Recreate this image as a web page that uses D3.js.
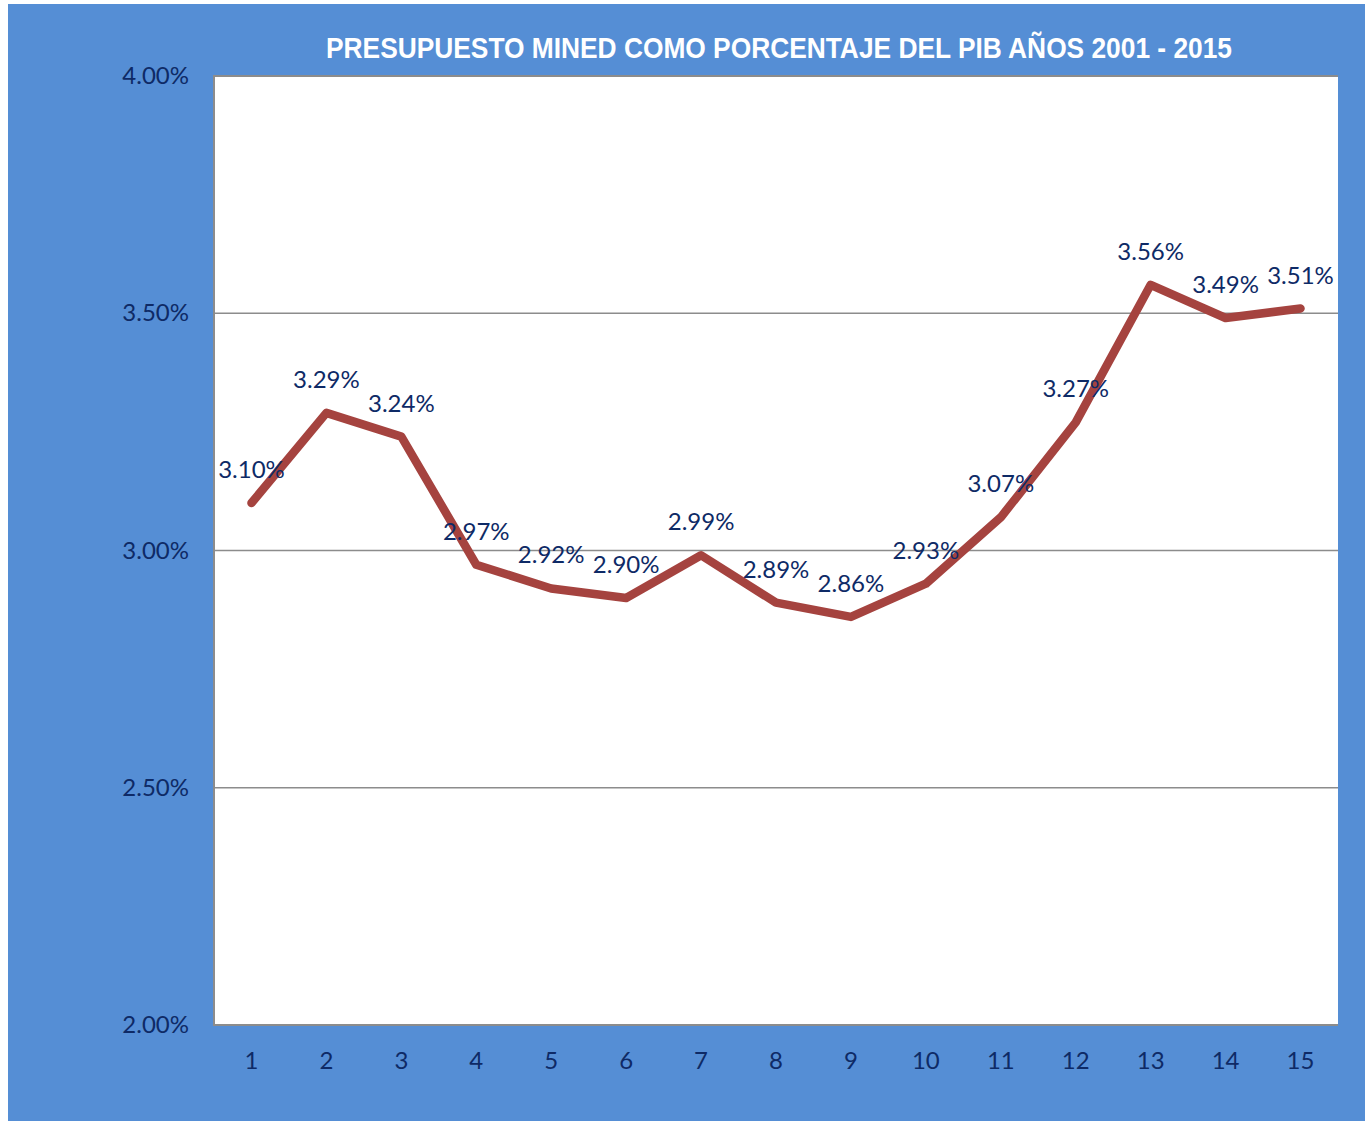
<!DOCTYPE html>
<html>
<head>
<meta charset="utf-8">
<script src="https://cdn.jsdelivr.net/npm/d3@7"></script>
<style>
  body { margin: 0; background: #fff; }
  svg { display: block; }
</style>
</head>
<body>
<div id="chart"></div>
<script>
// Data
const years = ["1","2","3","4","5","6","7","8","9","10","11","12","13","14","15"];
const pctPib = [3.10, 3.29, 3.24, 2.97, 2.92, 2.90, 2.99, 2.89, 2.86, 2.93, 3.07, 3.27, 3.56, 3.49, 3.51];
const yTicks = [2.0, 2.5, 3.0, 3.5, 4.0];
const title = "PRESUPUESTO MINED COMO PORCENTAJE DEL PIB AÑOS 2001 - 2015";

const svgWidth = 1371;
const svgHeight = 1123;
const margin = {top: 76, left: 214, right: 33, bottom: 98};
const width = svgWidth - margin.left - margin.right;
const height = svgHeight - margin.top - margin.bottom;

const labelFont = "Lato, sans-serif";
const labelSize = "24px";
const navy = "#0E2A66";

const svg = d3.select("#chart")
  .append("svg")
  .attr("width", svgWidth)
  .attr("height", svgHeight);

// Blue frame
svg.append("rect")
  .attr("x", 8).attr("y", 4)
  .attr("width", 1357).attr("height", 1117)
  .attr("fill", "#558ED5");

const chartGroup = svg.append("g")
  .attr("transform", `translate(${margin.left}, ${margin.top})`);

// Plot area
chartGroup.append("rect")
  .attr("width", width).attr("height", height)
  .attr("fill", "#fff");

const xScale = d3.scaleBand().domain(years).range([0, width]);
const yScale = d3.scaleLinear().domain([2.0, 4.0]).range([height, 0]);

// Gridlines
chartGroup.selectAll("line.grid")
  .data(yTicks.filter(t => t > 2.0 && t < 4.0))
  .enter()
  .append("line")
  .attr("class", "grid")
  .attr("x1", 0).attr("x2", width)
  .attr("y1", d => yScale(d)).attr("y2", d => yScale(d))
  .attr("stroke", "#8c8c8c")
  .attr("stroke-width", 1.5);

// Plot borders (left, top, bottom)
chartGroup.append("path")
  .attr("d", `M${width},0 H0 V${height} H${width}`)
  .attr("fill", "none")
  .attr("stroke", "#8c8c8c")
  .attr("stroke-width", 2);

// Axes
const yAxis = d3.axisLeft(yScale).tickValues(yTicks).tickSize(0).tickPadding(25)
  .tickFormat(d => d.toFixed(2) + "%");
const xAxis = d3.axisBottom(xScale).tickSize(0).tickPadding(27);

const yAxisG = chartGroup.append("g").call(yAxis);
const xAxisG = chartGroup.append("g").attr("transform", `translate(0, ${height})`).call(xAxis);

[yAxisG, xAxisG].forEach(g => {
  g.select(".domain").remove();
  g.selectAll("text")
    .attr("fill", navy)
    .style("font-family", labelFont)
    .style("font-size", labelSize);
});

// Line
const line = d3.line()
  .x((d, i) => xScale(years[i]) + xScale.bandwidth() / 2)
  .y(d => yScale(d));

chartGroup.append("path")
  .datum(pctPib)
  .attr("d", line)
  .attr("fill", "none")
  .attr("stroke", "#A5433F")
  .attr("stroke-width", 8.5)
  .attr("stroke-linejoin", "round")
  .attr("stroke-linecap", "round");

// Data labels
chartGroup.selectAll("text.dlabel")
  .data(pctPib)
  .enter()
  .append("text")
  .attr("class", "dlabel")
  .attr("x", (d, i) => xScale(years[i]) + xScale.bandwidth() / 2)
  .attr("y", d => yScale(d) - 25)
  .attr("text-anchor", "middle")
  .attr("fill", navy)
  .style("font-family", labelFont)
  .style("font-size", labelSize)
  .text(d => d.toFixed(2) + "%");

// Title
svg.append("text")
  .attr("x", 779)
  .attr("y", 58)
  .attr("text-anchor", "middle")
  .attr("textLength", 906)
  .attr("lengthAdjust", "spacingAndGlyphs")
  .attr("fill", "#fff")
  .style("font-family", "'Liberation Sans Narrow', 'Arial Narrow', 'Liberation Sans', sans-serif")
  .style("font-weight", "bold")
  .style("font-size", "30px")
  .text(title);
</script>
</body>
</html>
